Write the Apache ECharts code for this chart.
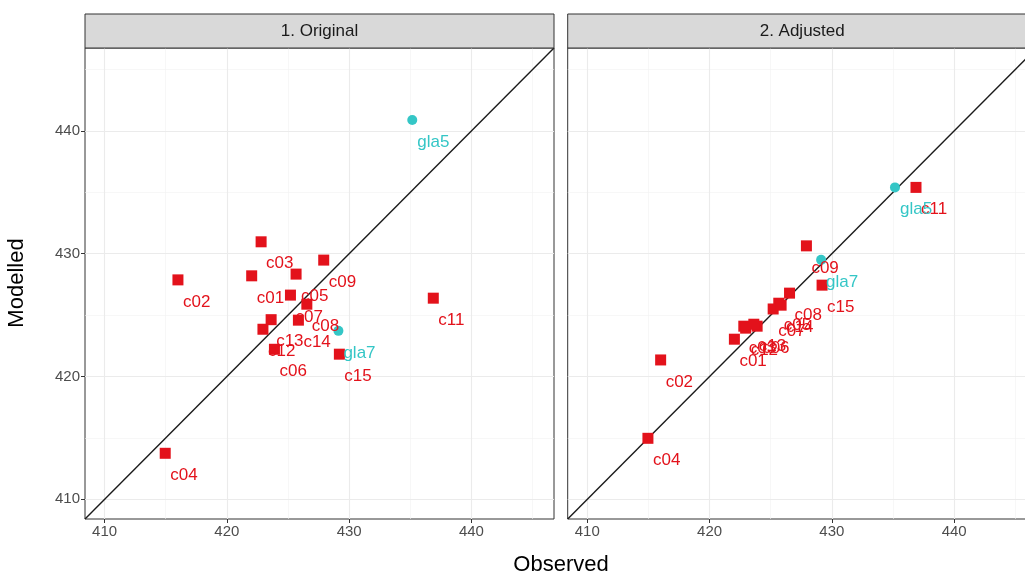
<!DOCTYPE html>
<html><head><meta charset="utf-8">
<script src="https://cdn.jsdelivr.net/npm/echarts@6/dist/echarts.min.js"></script>
<style>html,body{margin:0;padding:0;background:#fff;overflow:hidden;width:1025px;height:576px}#c{width:1045px;height:576px}</style>
</head><body><div id="c"></div>
<script>
// ---- data ----
const sites = ['c01','c02','c03','c04','c05','c06','c07','c08','c09','c11','c12','c13','c14','c15','gla5','gla7'];
const observed = [422.03,416.0,422.8,414.96,425.66,423.89,425.2,426.54,427.92,436.88,422.95,423.62,425.85,429.2,435.16,429.12];
const modelledOriginal = [428.2,427.87,430.97,413.75,428.34,422.22,426.63,425.89,429.48,426.38,423.85,424.63,424.59,421.82,440.89,423.72];
const modelledAdjusted = [423.04,421.35,424.1,414.97,425.97,424.1,425.5,426.79,430.64,435.4,423.94,424.26,425.81,427.44,435.4,429.5];
const panelTitles = ['1. Original', '2. Adjusted'];
const tickValues = [410, 420, 430, 440];
const minorValues = [415, 425, 435, 445];
const axisRange = [408.4, 446.75];

const RED = '#E3121B', CYAN = '#34C6C6';
const FONT = 'Liberation Sans, Arial, sans-serif';
const panels = [modelledOriginal, modelledAdjusted];
const gridLeft = [85, 567.7], gridW = 469, gridTop = 48, gridH = 471;

const chart = echarts.init(document.getElementById('c'));
const grids = [], xAxes = [], yAxes = [], series = [], graphics = [];

panels.forEach((mod, p) => {
  grids.push({left: gridLeft[p], top: gridTop, width: gridW, height: gridH, show: true,
    borderColor: '#333', borderWidth: 1, backgroundColor: '#fff', containLabel: false});
  const axisCommon = {
    min: axisRange[0], max: axisRange[1],
    axisLine: {show: false},
    splitLine: {show: false},
    axisTick: {show: true, customValues: tickValues, length: 4, lineStyle: {color: '#333', width: 1}},
    axisLabel: {show: true, customValues: tickValues, color: '#4D4D4D', fontSize: 15, fontFamily: FONT, margin: 5}
  };
  xAxes.push(Object.assign({type: 'value'}, JSON.parse(JSON.stringify(axisCommon)), {gridIndex: p}));
  const ya = Object.assign({type: 'value'}, JSON.parse(JSON.stringify(axisCommon)), {gridIndex: p});
  if (p === 1) { ya.axisTick.show = false; ya.axisLabel.show = false; }
  yAxes.push(ya);

  // grid lines + 1:1 line
  const gl = [];
  const minorStyle = {color: '#F2F2F2', width: 0.6, type: 'solid'};
  const majorStyle = {color: '#EBEBEB', width: 1.1, type: 'solid'};
  minorValues.forEach(v => { gl.push({xAxis: v, lineStyle: minorStyle}); gl.push({yAxis: v, lineStyle: minorStyle}); });
  tickValues.forEach(v => { gl.push({xAxis: v, lineStyle: majorStyle}); gl.push({yAxis: v, lineStyle: majorStyle}); });
  series.push({
    type: 'line', xAxisIndex: p, yAxisIndex: p, z: 1,
    data: [[axisRange[0], axisRange[0]], [axisRange[1], axisRange[1]]],
    symbol: 'none', clip: true, silent: true,
    lineStyle: {color: '#1A1A1A', width: 1.4},
    markLine: {silent: true, symbol: 'none', label: {show: false}, animation: false, z: 0,
      lineStyle: {type: 'solid'}, emphasis: {disabled: true}, data: gl}
  });

  const mk = (pref, sym, size, color) => ({
    type: 'scatter', xAxisIndex: p, yAxisIndex: p, z: 3,
    symbol: sym, symbolSize: size,
    itemStyle: {color: color, opacity: 1},
    label: {show: true, formatter: '{b}', position: [size / 2 + 5, size / 2 + 22], align: 'left', verticalAlign: 'middle',
      color: color, fontSize: 17, fontFamily: FONT},
    data: sites.map((s, i) => ({name: s, value: [observed[i], mod[i]]})).filter(d => d.name.startsWith(pref))
  });
  series.push(mk('c', 'rect', 11, RED));
  series.push(mk('gla', 'circle', 10, CYAN));

  graphics.push({type: 'rect', shape: {x: gridLeft[p], y: 14, width: gridW, height: 34},
    style: {fill: '#D9D9D9', stroke: '#333', lineWidth: 1}, z: 10});
  graphics.push({type: 'text', x: gridLeft[p] + gridW / 2, y: 31,
    style: {text: panelTitles[p], fill: '#1A1A1A', font: '17px ' + FONT, textAlign: 'center', textVerticalAlign: 'middle'}, z: 11});
});

graphics.push({type: 'text', x: 561, y: 565,
  style: {text: 'Observed', fill: '#000', font: '22px ' + FONT, textAlign: 'center', textVerticalAlign: 'middle'}});
graphics.push({type: 'text', x: 17, y: 283, rotation: Math.PI / 2,
  style: {text: 'Modelled', fill: '#000', font: '22px ' + FONT, textAlign: 'center', textVerticalAlign: 'middle'}});

chart.setOption({
  animation: false,
  backgroundColor: '#fff',
  grid: grids, xAxis: xAxes, yAxis: yAxes, series: series, graphic: graphics
});
</script></body></html>
